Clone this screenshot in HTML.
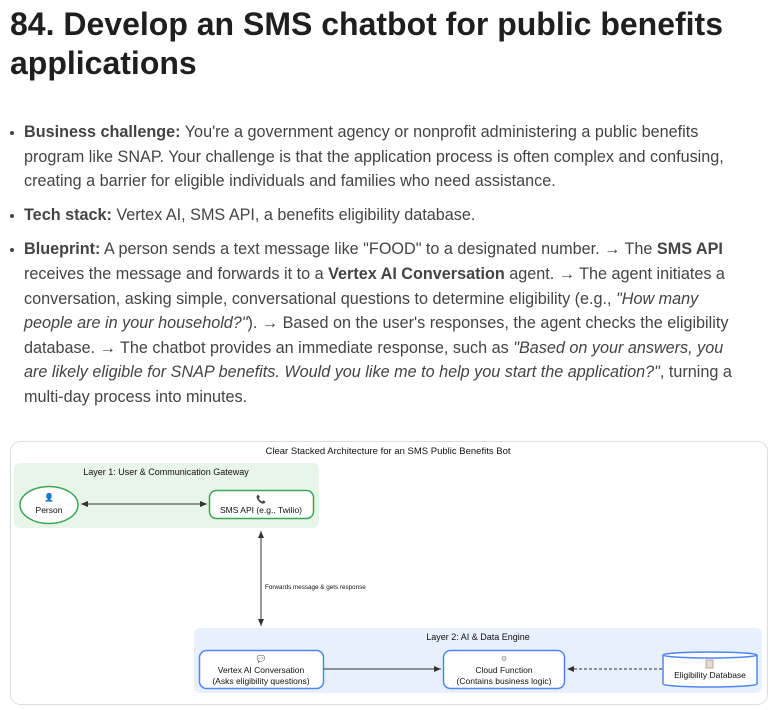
<!DOCTYPE html>
<html><head><meta charset="utf-8"><style>
body{margin:0;width:776px;height:710px;background:#fff;font-family:"Liberation Sans",sans-serif;overflow:hidden;position:relative}
h1{position:absolute;left:10px;top:0;margin:0;font-size:32px;line-height:39px;font-weight:bold;color:#1f1f1f;width:766px;padding-top:5px;white-space:nowrap}
ul{position:absolute;left:0;top:120px;margin:0;padding:0 0 0 24px;width:760px;color:#444;font-size:16.2px;line-height:24.6px;list-style:none;white-space:nowrap}
li{position:relative;margin-bottom:9.5px}
li:before{content:"";position:absolute;left:-14px;top:11px;width:4px;height:4px;border-radius:50%;background:#444}
b{color:#444}
</style></head><body>
<h1>84. Develop an SMS chatbot for public benefits<br>applications</h1>
<ul>
<li><b>Business challenge:</b> You're a government agency or nonprofit administering a public benefits<br>program like SNAP. Your challenge is that the application process is often complex and confusing,<br>creating a barrier for eligible individuals and families who need assistance.</li>
<li><b>Tech stack:</b> Vertex AI, SMS API, a benefits eligibility database.</li>
<li><b>Blueprint:</b> A person sends a text message like "FOOD" to a designated number. → The <b>SMS API</b><br>receives the message and forwards it to a <b>Vertex AI Conversation</b> agent. → The agent initiates a<br>conversation, asking simple, conversational questions to determine eligibility (e.g., <i>"How many</i><br><i>people are in your household?"</i>). → Based on the user's responses, the agent checks the eligibility<br>database. → The chatbot provides an immediate response, such as <i>"Based on your answers, you</i><br><i>are likely eligible for SNAP benefits. Would you like me to help you start the application?"</i>, turning a<br>multi-day process into minutes.</li>
</ul>
<svg style="position:absolute;left:0;top:0" width="776" height="710" font-family="Liberation Sans, sans-serif">
<defs><marker id="a" markerWidth="8" markerHeight="8" refX="7" refY="4" orient="auto-start-reverse"><path d="M0,1 L7,4 L0,7 z" fill="#333"/></marker></defs>
<rect x="10.5" y="441.5" width="757" height="263" rx="10" fill="#fff" stroke="#ddd"/>
<text x="388" y="454" font-size="9.5" text-anchor="middle" fill="#111">Clear Stacked Architecture for an SMS Public Benefits Bot</text>
<rect x="14" y="463" width="305" height="65" rx="6" fill="#e8f5e9"/>
<text x="166" y="475" font-size="9" text-anchor="middle" fill="#111">Layer 1: User &amp; Communication Gateway</text>
<ellipse cx="49" cy="505" rx="29" ry="18.5" fill="#fff" stroke="#3aa757" stroke-width="1.5"/>
<text x="49" y="500" font-size="8" text-anchor="middle" fill="#4a7ab0">👤</text>
<text x="49" y="513" font-size="8.5" text-anchor="middle" fill="#111">Person</text>
<rect x="209.5" y="490.5" width="104" height="28" rx="7" fill="#fff" stroke="#3aa757" stroke-width="1.5"/>
<text x="261" y="502" font-size="8" text-anchor="middle" fill="#333">📞</text>
<text x="261" y="513" font-size="8.5" text-anchor="middle" fill="#111">SMS API (e.g., Twilio)</text>
<line x1="81" y1="504" x2="207" y2="504" stroke="#333" marker-start="url(#a)" marker-end="url(#a)"/>
<line x1="261" y1="531" x2="261" y2="626" stroke="#333" marker-start="url(#a)" marker-end="url(#a)"/>
<text x="265" y="589" font-size="6.3" fill="#111">Forwards message &amp; gets response</text>
<rect x="194" y="628" width="568" height="65" rx="6" fill="#e8f0fe"/>
<text x="478" y="640" font-size="9" text-anchor="middle" fill="#111">Layer 2: AI &amp; Data Engine</text>
<rect x="199.5" y="650.5" width="124" height="38" rx="7" fill="#fff" stroke="#4f86f7" stroke-width="1.5"/>
<text x="261" y="661" font-size="7" text-anchor="middle" fill="#aaa">💬</text>
<text x="261" y="673" font-size="8.5" text-anchor="middle" fill="#111">Vertex AI Conversation</text>
<text x="261" y="684" font-size="8.5" text-anchor="middle" fill="#111">(Asks eligibility questions)</text>
<rect x="443.5" y="650.5" width="121" height="38" rx="7" fill="#fff" stroke="#4f86f7" stroke-width="1.5"/>
<text x="504" y="661" font-size="7" text-anchor="middle" fill="#888">⚙</text>
<text x="504" y="673" font-size="8.5" text-anchor="middle" fill="#111">Cloud Function</text>
<text x="504" y="684" font-size="8.5" text-anchor="middle" fill="#111">(Contains business logic)</text>
<line x1="324" y1="669" x2="441" y2="669" stroke="#333" marker-end="url(#a)"/>
<line x1="662" y1="669" x2="567" y2="669" stroke="#333" stroke-dasharray="3,2" marker-end="url(#a)"/>
<path d="M663,655 L663,684 A47,3 0 0 0 757,684 L757,655" fill="#fff" stroke="#4f86f7" stroke-width="1.5"/>
<ellipse cx="710" cy="655" rx="47" ry="3" fill="#fff" stroke="#4f86f7" stroke-width="1.5"/>
<rect x="706" y="660" width="7" height="8" fill="#ddd" stroke="#b08a60" stroke-width="0.7"/>
<text x="710" y="678" font-size="8.5" text-anchor="middle" fill="#111">Eligibility Database</text>
</svg>
</body></html>
